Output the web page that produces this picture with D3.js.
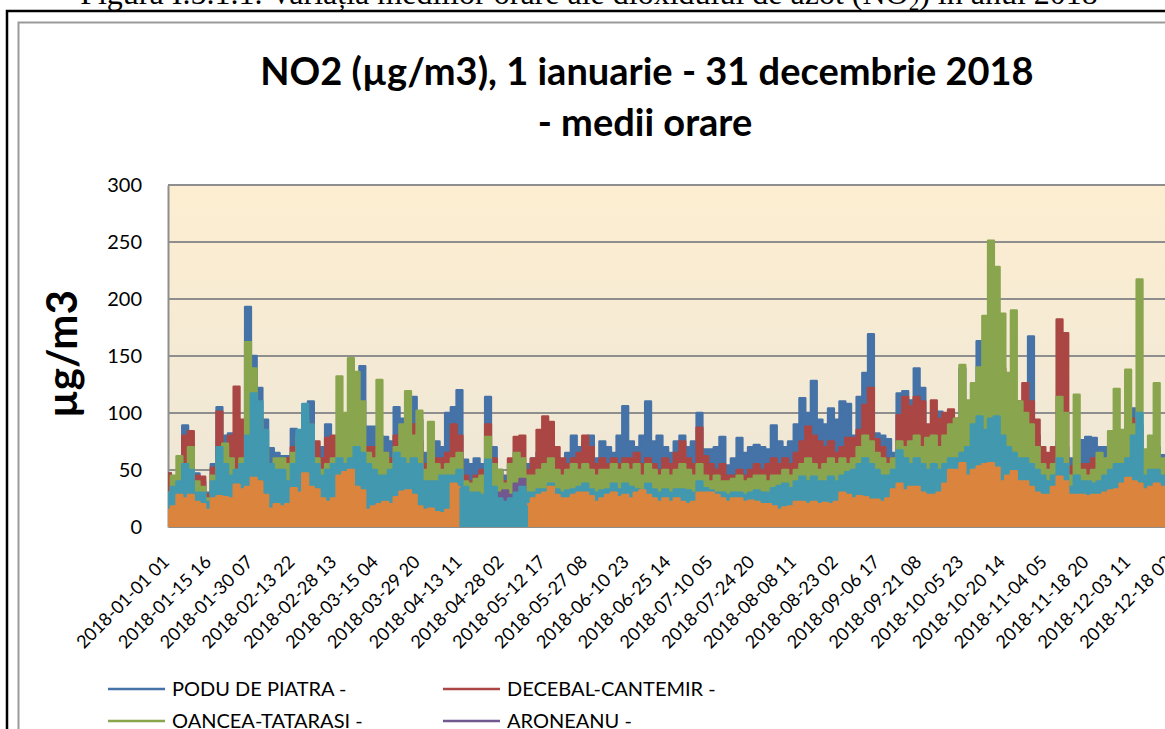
<!DOCTYPE html>
<html>
<head>
<meta charset="utf-8">
<script src="https://cdn.jsdelivr.net/npm/d3@7"></script>
<style>
  body { margin: 0; background: #fff; overflow: hidden; }
  svg { display: block; }
</style>
</head>
<body>
<div id="chart"></div>
<script>
// series names and colours (Excel order: first drawn at the back)
var seriesNames = ["PODU DE PIATRA -", "DECEBAL-CANTEMIR -", "OANCEA-TATARASI -", "ARONEANU -", "TOMESTI -", "COPOU -"];
var seriesColors = ["#4572A7", "#AA4643", "#89A54E", "#71588F", "#4198AF", "#DB843D"];

// one value every 2 days (peak of the hourly means)
var stepHours = 48;
var podu = [47,44,45,89,60,47,40,30,55,105, 80,82,70,75,193,150,122,94,69,65,
  62,62,86,70,100,110,70,70,90,75, 70,85,90,100,141,88,88,80,79,75,
  105,95,90,114,94,65,55,75,70,100, 105,120,59,55,60,55,114,70,50,45,
  45,55,55,55,60,65,70,75,60,55, 65,80,70,75,80,60,75,70,65,80,
  106,75,70,80,110,75,80,70,65,75, 80,70,75,100,68,68,70,79,54,60,
  78,65,70,72,70,68,89,75,70,75, 90,113,100,128,94,90,104,94,110,108,
  80,114,135,169,82,80,77,65,117,119, 111,139,122,75,70,101,85,80,75,139,
  100,110,163,130,120,100,95,90,85,100, 90,167,80,60,55,60,75,70,60,60,
  76,79,78,70,70,60,70,75,90,104, 90,60,65,70,63,60];
var decebal = [47,40,40,80,84,45,44,28,52,101, 70,80,123,94,90,85,95,70,55,55,
  55,60,70,75,85,90,75,60,78,80, 78,70,75,70,60,70,70,60,65,60,
  80,85,80,90,75,55,50,60,60,65, 90,80,45,40,45,50,90,60,45,40,
  60,79,80,50,60,85,97,92,70,60, 55,60,65,80,70,55,60,55,60,55,
  60,60,65,55,60,55,50,60,55,65, 75,60,55,87,62,55,50,55,45,45,
  50,45,50,55,50,55,60,55,60,55, 65,75,88,80,75,70,75,65,70,78,
  78,85,107,122,77,70,60,60,98,114, 106,114,110,90,111,95,100,103,95,90,
  95,100,120,115,110,105,139,100,90,110, 126,110,94,70,65,70,182,170,53,55,
  55,55,60,55,55,55,65,70,80,95, 85,55,60,60,55,50];
var oancea = [30,45,62,50,70,40,35,25,45,60, 73,60,50,60,162,139,100,70,55,60,
  60,55,65,80,94,85,60,50,55,60, 132,100,148,136,110,65,60,129,65,55,
  70,90,119,80,102,50,92,55,50,55, 60,65,40,38,42,45,79,55,50,38,
  55,65,60,45,45,50,55,60,50,45, 50,55,50,55,50,45,50,50,55,50,
  55,50,55,45,55,50,45,50,45,50, 55,50,45,55,45,40,45,40,40,42,
  45,40,42,45,45,40,45,45,50,45, 50,55,60,55,50,55,60,55,60,55,
  60,70,80,75,65,60,55,60,75,70, 75,80,70,78,80,70,80,90,95,142,
  111,126,140,185,251,228,187,135,190,110, 100,90,70,55,50,55,114,100,45,116,
  50,45,50,65,60,84,121,85,138,90, 217,68,80,126,60,55];
var aroneanu = [20,18,15,20,22,15,18,12,20,22, 25,20,22,25,28,30,28,25,20,18,
  18,20,22,25,28,25,22,20,22,25, 28,30,30,25,22,18,20,20,22,20,
  22,25,25,22,20,18,18,15,15,18, 20,22,25,22,25,22,30,28,30,32,
  28,38,42,25,22,20,22,25,20,18, 18,20,22,20,22,18,20,20,22,20,
  20,18,20,22,20,18,18,20,18,20, 18,18,20,22,25,22,20,18,18,20,
  20,18,20,22,20,18,20,18,20,18, 20,22,25,22,20,22,25,22,25,22,
  22,25,25,22,20,20,22,25,28,25, 25,28,25,22,25,22,25,28,28,30,
  30,32,35,35,38,35,30,28,30,28, 28,25,25,22,22,25,30,28,20,22,
  22,20,22,22,25,25,25,28,30,30, 30,25,25,28,25,22];
var tomesti = [30,35,40,55,50,30,30,22,40,70, 55,45,50,55,80,117,110,85,55,50,
  50,40,55,85,108,90,55,45,50,55, 60,55,60,70,65,55,50,45,45,50,
  65,60,55,60,55,40,40,40,45,45, 45,50,35,30,30,28,59,35,25,22,
  25,30,35,30,30,33,33,38,33,30, 32,33,35,38,33,30,32,33,38,33,
  38,35,33,32,38,33,30,33,30,33, 33,32,30,40,34,32,30,30,28,30,
  30,28,30,32,30,30,34,36,38,34, 40,44,40,44,40,40,44,40,45,48,
  50,55,60,55,50,45,45,50,67,60, 55,60,55,50,55,50,55,60,60,65,
  70,90,97,85,95,97,80,70,65,60, 60,55,50,45,40,45,60,55,35,45,
  40,40,38,40,45,50,55,55,60,80, 100,45,50,50,45,40];
var copou = [15,18,28,25,28,22,20,15,25,27, 26,25,37,33,35,43,40,28,16,20,
  18,20,34,30,47,35,33,25,22,25, 45,48,50,35,32,15,18,20,22,20,
  26,31,32,28,18,15,16,13,12,15, 38,35,null,null,null,null,null,null,null,null,
  null,null,null,20,25,28,30,35,28,25, 25,28,30,30,27,22,25,28,30,26,
  28,25,30,32,28,25,22,25,22,25, 22,20,22,30,30,30,28,25,22,25,
  25,22,23,22,20,20,18,15,17,18, 22,22,20,22,20,21,20,22,30,28,
  25,27,26,24,24,22,25,33,38,32, 35,35,30,28,28,30,38,50,50,56,
  45,50,53,55,56,52,40,45,49,40, 40,35,30,28,28,35,44,40,28,28,
  28,27,28,28,30,32,33,38,43,40, 38,33,35,38,35,33];

// category axis: every 351st hourly label
var tickStep = 351;
var tickLabels = ["2018-01-01 01","2018-01-15 16","2018-01-30 07","2018-02-13 22","2018-02-28 13",
  "2018-03-15 04","2018-03-29 20","2018-04-13 11","2018-04-28 02","2018-05-12 17","2018-05-27 08",
  "2018-06-10 23","2018-06-25 14","2018-07-10 05","2018-07-24 20","2018-08-08 11","2018-08-23 02",
  "2018-09-06 17","2018-09-21 08","2018-10-05 23","2018-10-20 14","2018-11-04 05","2018-11-18 20",
  "2018-12-03 11","2018-12-18 02"];
var totalHours = 8760;
var yTicks = [0, 50, 100, 150, 200, 250, 300];

var allSeries = [podu, decebal, oancea, aroneanu, tomesti, copou];

var W = 1165, H = 729;
var plot = {left: 168, top: 185, width: 1043, height: 342};

var svg = d3.select("#chart").append("svg")
    .attr("width", W)
    .attr("height", H)
    .style("font-family", "Lato, 'Open Sans', sans-serif");

var defs = svg.append("defs");
var grad = defs.append("linearGradient")
    .attr("id", "bg")
    .attr("x1", 0).attr("y1", 0).attr("x2", 0).attr("y2", 1);
grad.append("stop").attr("offset", "0%").attr("stop-color", "#FDEED1");
grad.append("stop").attr("offset", "100%").attr("stop-color", "#ECE6D7");

defs.append("clipPath").attr("id", "plotclip")
  .append("rect")
    .attr("x", plot.left).attr("y", plot.top - 2)
    .attr("width", plot.width).attr("height", plot.height + 2);

// caption of the figure (cut at the top of the page)
var cap = svg.append("text")
    .attr("x", 589)
    .attr("y", 4)
    .attr("text-anchor", "middle")
    .attr("font-family", "'Liberation Serif', 'Times New Roman', serif")
    .attr("font-size", "32px")
    .attr("fill", "#000");
cap.append("tspan").text("Figura I.5.1.1. Variația mediilor orare ale dioxidului de azot (NO");
cap.append("tspan").attr("font-size", "21px").attr("dy", 6).text("2");
cap.append("tspan").attr("dy", -6).text(") în anul 2018");

// frames
svg.append("rect")
    .attr("x", 7).attr("y", 11)
    .attr("width", 1300).attr("height", 900)
    .attr("fill", "none")
    .attr("stroke", "#000")
    .attr("stroke-width", 2.5);
svg.append("rect")
    .attr("x", 18.5).attr("y", 22.5)
    .attr("width", 1300).attr("height", 900)
    .attr("fill", "#fff")
    .attr("stroke", "#9a9a9a")
    .attr("stroke-width", 2);

// title
svg.append("text")
    .attr("x", 647).attr("y", 85)
    .attr("text-anchor", "middle")
    .attr("font-weight", "bold")
    .attr("font-size", "38px")
    .text("NO2 (µg/m3), 1 ianuarie - 31 decembrie 2018");
svg.append("text")
    .attr("x", 645).attr("y", 136)
    .attr("text-anchor", "middle")
    .attr("font-weight", "bold")
    .attr("font-size", "38px")
    .text("- medii orare");

var x = d3.scaleLinear()
    .domain([0, totalHours])
    .range([plot.left, plot.left + plot.width]);
var y = d3.scaleLinear()
    .domain([0, 300])
    .range([plot.top + plot.height, plot.top]);

// plot background
svg.append("rect")
    .attr("x", plot.left).attr("y", plot.top)
    .attr("width", plot.width).attr("height", plot.height)
    .attr("fill", "url(#bg)");

// gridlines
svg.append("g").selectAll("line")
  .data(yTicks.slice(1))
  .enter().append("line")
    .attr("x1", plot.left).attr("x2", plot.left + plot.width)
    .attr("y1", function(d) { return y(d); })
    .attr("y2", function(d) { return y(d); })
    .attr("stroke", "#8e8e8e")
    .attr("stroke-width", 2);

// y axis
var yAxis = svg.append("g")
    .attr("transform", "translate(" + plot.left + ",0)")
    .call(d3.axisLeft(y).tickValues(yTicks).tickSize(0).tickPadding(26));
yAxis.select(".domain").attr("stroke", "#8e8e8e").attr("stroke-width", 2);
yAxis.selectAll("text")
    .attr("font-family", "Lato, sans-serif")
    .attr("font-size", "20px")
    .attr("fill", "#000");

svg.append("text")
    .attr("transform", "translate(77," + (plot.top + plot.height / 2 - 2) + ") rotate(-90)")
    .attr("text-anchor", "middle")
    .attr("font-weight", "bold")
    .attr("font-size", "42px")
    .text("µg/m3");

// series, drawn as filled bands from 0 to the hourly peaks
var area = d3.area()
    .defined(function(d) { return d != null; })
    .curve(d3.curveStep)
    .x(function(d, i) { return x(i * stepHours); })
    .y0(y(0))
    .y1(function(d) { return y(d); });
var line = d3.line()
    .defined(function(d) { return d != null; })
    .curve(d3.curveStep)
    .x(function(d, i) { return x(i * stepHours); })
    .y(function(d) { return y(d); });

var pg = svg.append("g").attr("clip-path", "url(#plotclip)");
allSeries.forEach(function(s, k) {
  pg.append("path")
      .datum(s)
      .attr("d", area)
      .attr("fill", seriesColors[k]);
  pg.append("path")
      .datum(s)
      .attr("d", line)
      .attr("fill", "none")
      .attr("stroke", seriesColors[k])
      .attr("stroke-width", 2.5)
      .attr("stroke-linejoin", "round")
      .attr("stroke-linecap", "round");
});

// x axis (category labels rotated)
var tickHours = tickLabels.map(function(d, i) { return i * tickStep; });
var xAxis = svg.append("g")
    .attr("transform", "translate(0," + (plot.top + plot.height) + ")")
    .call(d3.axisBottom(x).tickValues(tickHours)
      .tickFormat(function(d, i) { return tickLabels[i]; })
      .tickSize(0));
xAxis.select(".domain").attr("stroke", "#8e8e8e").attr("stroke-width", 1);
xAxis.selectAll("text")
    .attr("font-family", "Lato, sans-serif")
    .attr("font-size", "18px")
    .attr("fill", "#000")
    .style("text-anchor", "end")
    .attr("x", 2)
    .attr("y", 36)
    .attr("dy", "0")
    .attr("transform", "rotate(-45,2,36)");

// legend (two columns)
var legend = svg.append("g");
var legItems = seriesNames.slice(0, 4);
var leg = legend.selectAll("g")
  .data(legItems)
  .enter().append("g")
    .attr("transform", function(d, i) {
      return "translate(" + (i % 2 == 0 ? 108 : 443) + "," + (689 + Math.floor(i / 2) * 32) + ")";
    });
leg.append("line")
    .attr("x1", 0).attr("x2", 57)
    .attr("stroke", function(d, i) { return seriesColors[i]; })
    .attr("stroke-width", 2.5);
leg.append("text")
    .attr("x", 64)
    .attr("dy", "0.35em")
    .attr("font-size", "20px")
    .text(function(d) { return d; });
</script>
</body>
</html>
